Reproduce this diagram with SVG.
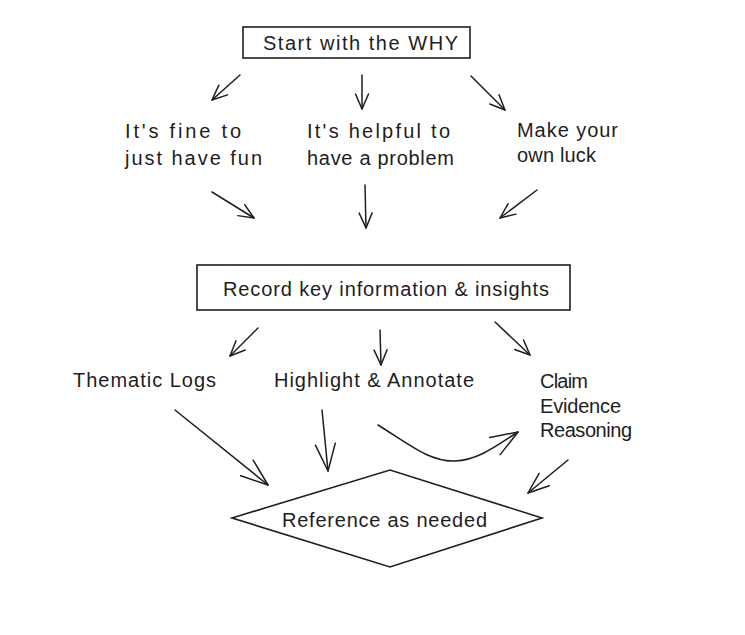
<svg xmlns="http://www.w3.org/2000/svg" width="745" height="635" viewBox="0 0 745 635">
<style>
  text { font-family: "Liberation Sans", "DejaVu Sans", sans-serif; font-size: 20px; fill: #1e1e1e; }
  .box { fill: #ffffff; stroke: #1e1e1e; stroke-width: 1.6; }
  .conn path, .conn line { fill: none; stroke: #1e1e1e; stroke-width: 1.5; stroke-linecap: round; }
  .s { marker-end: url(#headS); }
  .m { marker-end: url(#headM); }
  .l { marker-end: url(#headL); }
</style>
<defs>
  <marker id="headS" markerUnits="userSpaceOnUse" viewBox="-18 -9 20 18" refX="0" refY="0" markerWidth="20" markerHeight="18" orient="auto">
    <path d="M-15,-6.5 L0,0 L-15,6.5" fill="none" stroke="#1e1e1e" stroke-width="1.5" stroke-linecap="round" stroke-linejoin="round"/>
  </marker>
  <marker id="headM" markerUnits="userSpaceOnUse" viewBox="-24 -11 26 22" refX="0" refY="0" markerWidth="26" markerHeight="22" orient="auto">
    <path d="M-21,-8 L0,0 L-21,8" fill="none" stroke="#1e1e1e" stroke-width="1.5" stroke-linecap="round" stroke-linejoin="round"/>
  </marker>
  <marker id="headL" markerUnits="userSpaceOnUse" viewBox="-30 -13 32 26" refX="0" refY="0" markerWidth="32" markerHeight="26" orient="auto">
    <path d="M-27,-10 L0,0 L-27,10" fill="none" stroke="#1e1e1e" stroke-width="1.5" stroke-linecap="round" stroke-linejoin="round"/>
  </marker>
</defs>
<rect width="745" height="635" fill="#ffffff"/>

<g id="start-why">
  <rect class="box" x="243" y="27" width="227" height="31"/>
  <text x="263" y="50" textLength="195" lengthAdjust="spacing">Start with the WHY</text>
</g>

<g id="fun">
  <text x="125" y="138" textLength="116" lengthAdjust="spacing">It's fine to</text>
  <text x="125" y="165" textLength="137" lengthAdjust="spacing">just have fun</text>
</g>
<g id="problem">
  <text x="307" y="138" textLength="143" lengthAdjust="spacing">It's helpful to</text>
  <text x="307" y="165" textLength="147" lengthAdjust="spacing">have a problem</text>
</g>
<g id="luck">
  <text x="517" y="137" textLength="101" lengthAdjust="spacing">Make your</text>
  <text x="517" y="162" textLength="79" lengthAdjust="spacing">own luck</text>
</g>

<g id="record">
  <rect class="box" x="197" y="265" width="373" height="45"/>
  <text x="223" y="296" textLength="326" lengthAdjust="spacing">Record key information &amp; insights</text>
</g>

<g id="thematic">
  <text x="73" y="387" textLength="143" lengthAdjust="spacing">Thematic Logs</text>
</g>
<g id="highlight">
  <text x="274" y="387" textLength="200" lengthAdjust="spacing">Highlight &amp; Annotate</text>
</g>
<g id="cer">
  <text x="540" y="388" textLength="48" lengthAdjust="spacing">Claim</text>
  <text x="540" y="413" textLength="81" lengthAdjust="spacing">Evidence</text>
  <text x="540" y="437" textLength="92" lengthAdjust="spacing">Reasoning</text>
</g>

<g id="reference">
  <polygon class="box" points="232,518 390,470 542,518 390,567"/>
  <text x="282" y="527" textLength="205" lengthAdjust="spacing">Reference as needed</text>
</g>

<g id="connectors" class="conn">
  <line class="s" x1="240" y1="75" x2="212" y2="100"/>
  <line class="s" x1="362" y1="75" x2="362" y2="109"/>
  <line class="s" x1="471" y1="76" x2="505" y2="110"/>

  <line class="s" x1="212" y1="192" x2="254" y2="218"/>
  <line class="s" x1="365" y1="185" x2="366" y2="228"/>
  <line class="s" x1="537" y1="190" x2="500" y2="218"/>

  <line class="s" x1="258" y1="328" x2="230" y2="356"/>
  <line class="s" x1="380" y1="330" x2="381" y2="365"/>
  <line class="s" x1="495" y1="322" x2="530" y2="355"/>

  <line class="l" x1="175" y1="410" x2="268" y2="485"/>
  <line class="l" x1="322" y1="410" x2="328" y2="471"/>
  <path class="l" d="M378,425 C410,445 430,462 455,461 C480,460 500,443 518,432"/>
  <line class="m" x1="568" y1="460" x2="528" y2="493"/>
</g>
</svg>
